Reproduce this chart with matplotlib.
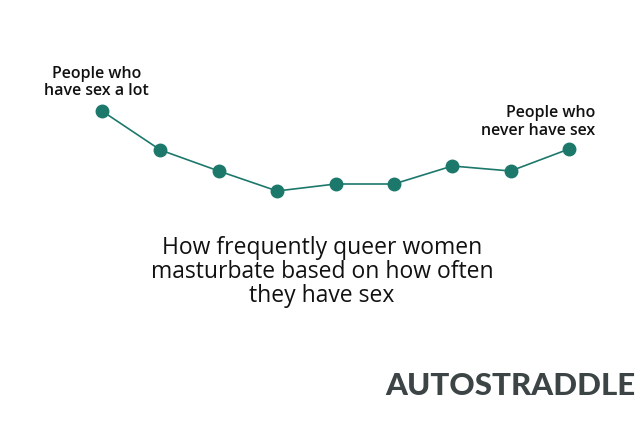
import matplotlib
matplotlib.use('Agg')
import matplotlib.pyplot as plt

# ── Data (relative masturbation frequency) ───────────────────────────────────
groups = list(range(9))
values = [1.88, 1.49, 1.28, 1.08, 1.15, 1.15, 1.33, 1.28, 1.50]

TEAL = '#1d786c'
INK  = '#111111'
LOGO = '#3c4446'

fig = plt.figure(figsize=(6.4, 4.27), dpi=100)
fig.patch.set_facecolor('white')

# line chart, no axes drawn
ax = fig.add_axes([102 / 640, (427 - 200) / 427, (569 - 102) / 640, 100 / 427])
ax.plot(groups, values, color=TEAL, linewidth=1.2, marker='o',
        markersize=9, markerfacecolor=TEAL, markeredgecolor=TEAL,
        clip_on=False)
ax.set_xlim(0, 8)
ax.set_ylim(1.0, 2.0)
ax.axis('off')

font = ['Open Sans', 'DejaVu Sans']
ax.annotate('People who\nhave sex a lot', xy=(groups[0], values[0]),
            xytext=(-4, 9), textcoords='offset points',
            ha='center', va='bottom', fontsize=11.5, family=font,
            fontweight='semibold', color=INK, linespacing=1.15,
            multialignment='center')
ax.annotate('People who\nnever have sex', xy=(groups[-1], values[-1]),
            xytext=(19, 8), textcoords='offset points',
            ha='right', va='bottom', fontsize=11.5, family=font,
            fontweight='semibold', color=INK, linespacing=1.15,
            multialignment='right')

fig.text(322 / 640, 1 - 272 / 427,
         'How frequently queer women\nmasturbate based on how often\nthey have sex',
         ha='center', va='center', fontsize=16.5, family=font,
         fontweight='medium', color=INK, linespacing=1.0)

# logo wordmark
fig.text(510 / 640, 1 - 386 / 427, 'AUTOSTRADDLE', ha='center', va='center',
         fontsize=22.5, family=['Lato', 'DejaVu Sans'], fontweight='black',
         color=LOGO)

fig.savefig('out.png', dpi=100, facecolor='white')
